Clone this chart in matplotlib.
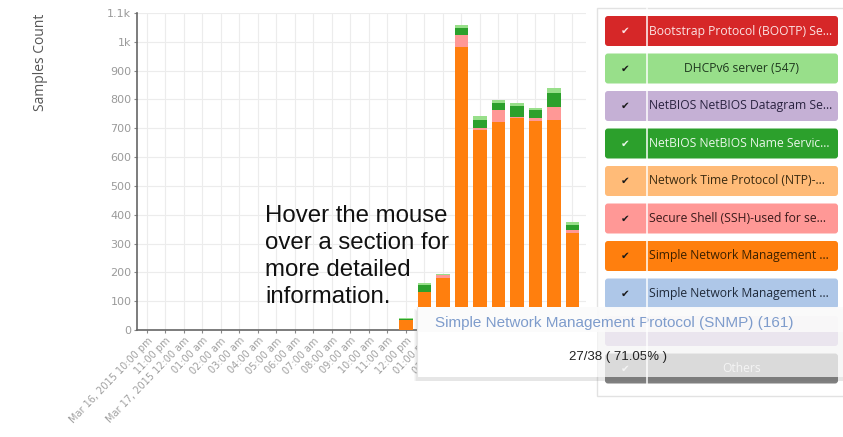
import matplotlib
matplotlib.use("Agg")
import matplotlib.pyplot as plt
from matplotlib.patches import FancyBboxPatch, Rectangle

# x kategorileri (saatlik)
categories = ["Mar 16, 2015 10:00 pm", "11:00 pm", "Mar 17, 2015 12:00 am", "01:00 am",
              "02:00 am", "03:00 am", "04:00 am", "05:00 am", "06:00 am", "07:00 am",
              "08:00 am", "09:00 am", "10:00 am", "11:00 am", "12:00 pm", "01:00 pm",
              "02:00 pm", "03:00 pm", "04:00 pm", "05:00 pm", "06:00 pm", "07:00 pm",
              "08:00 pm", "09:00 pm"]

# yigilmis seriler (alttan uste)
snmp =         [0, 0, 0, 0, 0, 0, 0, 0, 0, 0, 0, 0, 0, 0, 33, 132, 182, 983, 694, 722, 736, 726, 729, 337]
ssh =          [0, 0, 0, 0, 0, 0, 0, 0, 0, 0, 0, 0, 0, 0, 0, 0, 10, 41, 7, 42, 4, 10, 45, 10]
netbios_name = [0, 0, 0, 0, 0, 0, 0, 0, 0, 0, 0, 0, 0, 0, 5, 24, 0, 25, 28, 24, 38, 28, 49, 18]
dhcpv6 =       [0, 0, 0, 0, 0, 0, 0, 0, 0, 0, 0, 0, 0, 0, 2, 7, 3, 10, 12, 11, 10, 7, 17, 10]

series = [snmp, ssh, netbios_name, dhcpv6]
series_colors = ["#ff7f0e", "#ff9896", "#2ca02c", "#98df8a"]

yticks = [0, 100, 200, 300, 400, 500, 600, 700, 800, 900, 1000, 1100]
ytick_labels = ["0", "100", "200", "300", "400", "500", "600", "700", "800", "900", "1k", "1.1k"]

legend_labels = ["Bootstrap Protocol (BOOTP) Se...", "DHCPv6 server (547)",
                 "NetBIOS NetBIOS Datagram Se...", "NetBIOS NetBIOS Name Servic...",
                 "Network Time Protocol (NTP)-...", "Secure Shell (SSH)-used for se...",
                 "Simple Network Management ...", "Simple Network Management ...",
                 "", "Others"]
legend_colors = ["#d62728", "#98df8a", "#c5b0d5", "#2ca02c", "#ffbb78", "#ff9896",
                 "#ff7f0e", "#aec7e8", "#c5b0d5", "#7f7f7f"]
legend_text_colors = ["#fbe3e3", "#1f3a1f", "#2a2340", "#e9f7e9", "#3a2a10", "#3a1a1a",
                      "#3a2000", "#1f2a3a", "#222222", "#eeeeee"]
centered = ["DHCPv6 server (547)", "Others"]

W, H = 843, 437
fig = plt.figure(figsize=(W / 100, H / 100), dpi=100)
fig.patch.set_facecolor("white")

# ana eksen
ax = fig.add_axes([137 / W, 1 - 330 / H, 449 / W, 317 / H])
x = list(range(len(categories)))
bottom = [0] * len(categories)
for vals, col in zip(series, series_colors):
    ax.bar(x, vals, width=0.73, bottom=bottom, color=col, zorder=3)
    bottom = [b + v for b, v in zip(bottom, vals)]

ax.set_xlim(-0.54, 23.73)
ax.set_ylim(0, 1100)
ax.set_yticks(yticks)
ax.set_yticklabels(ytick_labels, color="#9a9a9a", fontsize=8)
ax.set_xticks(x)
ax.set_xticklabels(categories, rotation=46, ha="right", va="top",
                   rotation_mode="anchor", color="#a0a0a0", fontsize=7)
ax.grid(True, color="#ececec", linewidth=0.8, zorder=0)
ax.tick_params(axis="both", length=2, color="#888888", pad=2)
for s in ["top", "right"]:
    ax.spines[s].set_visible(False)
for s in ["left", "bottom"]:
    ax.spines[s].set_color("#666666")
    ax.spines[s].set_linewidth(1.2)

fig.text(40 / W, 1 - 62 / H, "Samples Count", rotation=90, ha="center", va="center",
         fontsize=10, color="#555555", family="Open Sans")

fig.text(265 / W, 1 - 205 / H, "Hover the mouse\nover a section for\nmore detailed\ninformation.",
         ha="left", va="top", fontsize=17.3, color="#111111", family="Liberation Sans",
         linespacing=1.3)

# ust katman: piksel koordinatli
ov = fig.add_axes([0, 0, 1, 1], zorder=5)
ov.set_xlim(0, W)
ov.set_ylim(H, 0)
ov.axis("off")
ov.patch.set_alpha(0)

# legend paneli
ov.add_patch(Rectangle((597, 8), 260, 388, facecolor="white", edgecolor="#e2e2e2", lw=1, zorder=1))
top = 16
for i, (lab, col, tcol) in enumerate(zip(legend_labels, legend_colors, legend_text_colors)):
    y0 = top + i * 37.5
    ov.add_patch(FancyBboxPatch((605, y0), 233, 30, boxstyle="round,pad=0,rounding_size=3",
                                facecolor=col, edgecolor="none", zorder=2))
    if not lab:
        continue
    ov.text(625, y0 + 15, "\u2714", ha="center", va="center", fontsize=7.5,
            color=tcol if col in ("#d62728", "#2ca02c", "#7f7f7f") else "#1a1a1a",
            family="DejaVu Sans", zorder=3)
    if lab in centered:
        ov.text(742, y0 + 15, lab, ha="center", va="center", fontsize=8.7,
                color=tcol, family="Open Sans", zorder=3)
    else:
        ov.text(649, y0 + 15, lab, ha="left", va="center", fontsize=8.7,
                color=tcol, family="Open Sans", zorder=3)

# tooltip
for k, a in enumerate([0.05, 0.06, 0.08]):
    ov.add_patch(Rectangle((417 - 3 + k, 307 + 2 + k), 440, 72 - k, facecolor="#777777",
                           edgecolor="none", alpha=a, zorder=4))
ov.add_patch(Rectangle((417, 307), 180, 70, facecolor="white", edgecolor="none", zorder=4))
ov.add_patch(Rectangle((417, 307), 440, 25, facecolor="#fbfbfb", edgecolor="none",
                       alpha=0.96, zorder=5))
ov.add_patch(Rectangle((417, 332), 440, 45, facecolor="white", edgecolor="none",
                       alpha=0.72, zorder=5))
ov.plot([417, 417], [307, 377], color="#e6e6e6", lw=0.8, zorder=6)
ov.text(435, 323, "Simple Network Management Protocol (SNMP) (161)", ha="left", va="center",
        fontsize=11, color="#7e9ccc", family="Liberation Sans", zorder=6)
ov.text(618, 357, "27/38 ( 71.05% )", ha="center", va="center",
        fontsize=9.5, color="#222222", family="Liberation Sans", zorder=6)

# legend uzerindeki beyaz dikey cizgi
ov.plot([647, 647], [8, 392], color="white", lw=1.2, alpha=0.9, zorder=7)

fig.savefig("out.png", dpi=100)
